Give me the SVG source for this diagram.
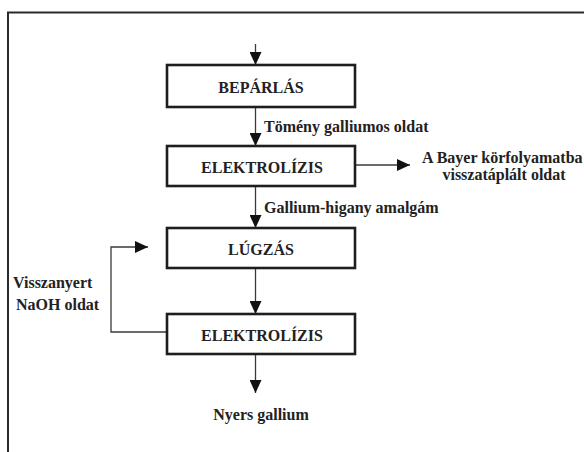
<svg xmlns="http://www.w3.org/2000/svg" width="584" height="452" viewBox="0 0 584 452">
  <style>
    .box { fill: #ffffff; stroke: #1e1e1e; stroke-width: 2.6; }
    .lbl { font-family: "Liberation Serif", "Times New Roman", serif; font-weight: bold; font-size: 16px; fill: #222222; }
    .conn { fill: none; stroke: #3a3a3a; stroke-width: 1.3; }
    .frame { fill: none; stroke: #2a2a2a; stroke-width: 2; }
  </style>
  <defs>
    <marker id="ah" viewBox="0 0 13 12" refX="13" refY="6" markerWidth="13" markerHeight="12" markerUnits="userSpaceOnUse" orient="auto">
      <path d="M0,0 L13,6 L0,12 z" fill="#111111"/>
    </marker>
  </defs>
  <rect x="0" y="0" width="584" height="452" fill="#ffffff"/>
  <path class="frame" d="M8,452 V12.5 H584"/>

  <g id="connectors">
    <line class="conn" x1="255.5" y1="44" x2="255.5" y2="65" marker-end="url(#ah)"/>
    <line class="conn" x1="255.5" y1="107" x2="255.5" y2="146" marker-end="url(#ah)"/>
    <line class="conn" x1="255.5" y1="186" x2="255.5" y2="228" marker-end="url(#ah)"/>
    <line class="conn" x1="255.5" y1="268" x2="255.5" y2="314" marker-end="url(#ah)"/>
    <line class="conn" x1="255.5" y1="354" x2="255.5" y2="393" marker-end="url(#ah)"/>
    <line class="conn" x1="355" y1="165" x2="410" y2="165" marker-end="url(#ah)"/>
    <path class="conn" d="M167,332 H111 V247 H148" marker-end="url(#ah)"/>
    <text class="lbl" x="264" y="132">Tömény galliumos oldat</text>
    <text class="lbl" x="264" y="213">Gallium-higany amalgám</text>
    <text class="lbl" x="13" y="288">Visszanyert</text>
    <text class="lbl" x="16" y="310">NaOH oldat</text>
  </g>

  <g id="beparlas">
    <rect class="box" x="167" y="65" width="188" height="42"/>
    <text class="lbl" x="261" y="92.5" text-anchor="middle">BEPÁRLÁS</text>
  </g>
  <g id="elektrolizis1">
    <rect class="box" x="167" y="146" width="188" height="40"/>
    <text class="lbl" x="262" y="172.5" text-anchor="middle">ELEKTROLÍZIS</text>
  </g>
  <g id="lugzas">
    <rect class="box" x="167" y="228" width="188" height="40"/>
    <text class="lbl" x="261" y="254.5" text-anchor="middle">LÚGZÁS</text>
  </g>
  <g id="elektrolizis2">
    <rect class="box" x="167" y="314" width="188" height="40"/>
    <text class="lbl" x="262" y="340.5" text-anchor="middle">ELEKTROLÍZIS</text>
  </g>
  <g id="bayer">
    <text class="lbl" x="422" y="163">A Bayer körfolyamatba</text>
    <text class="lbl" x="504" y="180" text-anchor="middle">visszatáplált oldat</text>
  </g>
  <g id="nyers">
    <text class="lbl" x="261" y="420" text-anchor="middle">Nyers gallium</text>
  </g>
</svg>
